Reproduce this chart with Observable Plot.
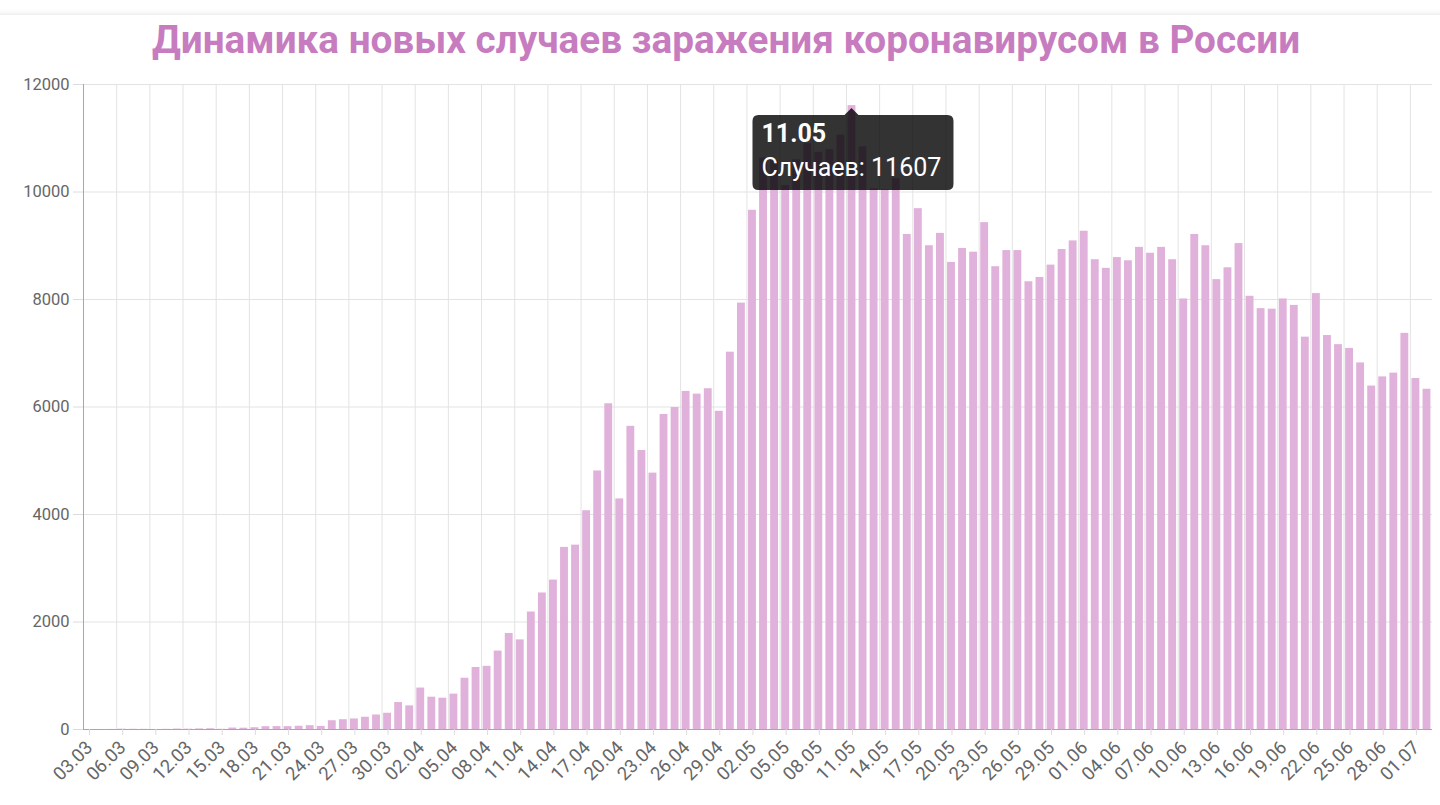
<!DOCTYPE html>
<html>
<head>
<meta charset="utf-8">
<script src="https://cdn.jsdelivr.net/npm/d3@7"></script>
<script src="https://cdn.jsdelivr.net/npm/@observablehq/plot@0.6"></script>
<style>
  html, body { margin: 0; padding: 0; background: #fff; }
  #wrap { position: relative; width: 1440px; height: 805px; overflow: hidden; font-family: Roboto, "Noto Sans", sans-serif; }
  #card { position: absolute; left: -30px; top: 15px; width: 1500px; height: 820px; background: #fff; box-shadow: 0 -1px 5px rgba(0,0,0,0.10); }
  #title { position: absolute; left: 12px; top: 15px; width: 1428px; text-align: center; font-family: Roboto, sans-serif; font-weight: 700; font-size: 38.7px; color: #c77cbf; line-height: 50px; white-space: nowrap; }
  #chart { position: absolute; left: 0; top: 70px; }
  #chart svg { font-family: Roboto, sans-serif; }
  #chart g[aria-label="x-axis tick"] path, #chart g[aria-label="y-axis tick"] path { stroke: #dcdcdc; stroke-opacity: 1; }
</style>
</head>
<body>
<div id="wrap">
  <div id="card"></div>
  <div id="title">Динамика новых случаев заражения коронавирусом в России</div>
  <div id="chart"></div>
</div>
<script>
// ---- data ----
const dayLabels = [
  "03.03","04.03","05.03","06.03","07.03","08.03","09.03","10.03","11.03","12.03",
  "13.03","14.03","15.03","16.03","17.03","18.03","19.03","20.03","21.03","22.03",
  "23.03","24.03","25.03","26.03","27.03","28.03","29.03","30.03","31.03","01.04",
  "02.04","03.04","04.04","05.04","06.04","07.04","08.04","09.04","10.04","11.04",
  "12.04","13.04","14.04","15.04","16.04","17.04","18.04","19.04","20.04","21.04",
  "22.04","23.04","24.04","25.04","26.04","27.04","28.04","29.04","30.04","01.05",
  "02.05","03.05","04.05","05.05","06.05","07.05","08.05","09.05","10.05","11.05",
  "12.05","13.05","14.05","15.05","16.05","17.05","18.05","19.05","20.05","21.05",
  "22.05","23.05","24.05","25.05","26.05","27.05","28.05","29.05","30.05","31.05",
  "01.06","02.06","03.06","04.06","05.06","06.06","07.06","08.06","09.06","10.06",
  "11.06","12.06","13.06","14.06","15.06","16.06","17.06","18.06","19.06","20.06",
  "21.06","22.06","23.06","24.06","25.06","26.06","27.06","28.06","29.06","30.06",
  "01.07","02.07"
];
const newCases = [
  0, 0, 1, 6, 4, 3, 0, 3, 8, 6,
  11, 14, 4, 27, 24, 33, 52, 54, 53, 61,
  71, 57, 163, 182, 196, 228, 270, 302, 501, 440,
  771, 601, 582, 658, 954, 1154, 1175, 1459, 1786, 1667,
  2186, 2540, 2780, 3388, 3430, 4070, 4810, 6060, 4290, 5640,
  5190, 4770, 5860, 5990, 6290, 6240, 6340, 5920, 7020, 7933,
  9660, 10633, 10581, 10120, 10600, 10900, 10740, 10790, 11060, 11607,
  10840, 10060, 10040, 10250, 9210, 9690, 9000, 9230, 8690, 8950,
  8880, 9430, 8610, 8910, 8910, 8330, 8410, 8640, 8930, 9090,
  9270, 8740, 8580, 8780, 8720, 8970, 8860, 8970, 8740, 8010,
  9210, 9000, 8370, 8590, 9040, 8060, 7830, 7820, 8010, 7890,
  7300, 8110, 7330, 7160, 7090, 6820, 6390, 6560, 6630, 7370,
  6530, 6330
];
const year = "2020";
const yTicks = [0, 2000, 4000, 6000, 8000, 10000, 12000];
const tickEvery = 3;
const tooltipDay = "11.05";
const tooltipLabel = "Случаев";

// ---- build table ----
const parse = d3.utcParse("%d.%m.%Y");
const DAY = 864e5;
const rows = dayLabels.map((d, i) => ({
  label: d,
  start: parse(d + "." + year),
  end: new Date(+parse(d + "." + year) + DAY),
  value: newCases[i]
}));
const tickDates = rows.filter((r, i) => i % tickEvery === 0).map(r => r.start);

const gridColor = "#e3e3e3";
const axisColor = "#a8a8a8";
const barColor = "#e0b1da";

const chart = Plot.plot({
  width: 1440,
  height: 735,
  marginLeft: 83,
  marginRight: 8,
  marginTop: 14,
  marginBottom: 76,
  style: { fontFamily: "Roboto, sans-serif", fontSize: "16px", color: "#666", background: "transparent" },
  x: { type: "utc", domain: [rows[0].start, rows[rows.length - 1].end] },
  y: { domain: [0, 12000] },
  marks: [
    Plot.gridY(yTicks, { stroke: gridColor, strokeOpacity: 1 }),
    Plot.gridX(tickDates, { stroke: gridColor, strokeOpacity: 1 }),
    Plot.rectY(rows, { x1: "start", x2: "end", y: "value", fill: barColor, insetLeft: 1.6, insetRight: 1.6 }),
    Plot.ruleX([rows[0].start], { stroke: axisColor }),
    Plot.ruleY([0], { stroke: axisColor }),
    Plot.axisY(yTicks, { tickSize: 10, tickPadding: 4, fontSize: 16.5, fill: "#666", label: null,
      tickFormat: d => String(d) }),
    Plot.axisX(tickDates, { tickSize: 6, tickPadding: 9, tickRotate: -45, dx: 6, fontSize: 18.5, fill: "#666",
      tickFormat: d3.utcFormat("%d.%m"), label: null })
  ]
});
document.getElementById("chart").appendChild(chart);

// ---- tooltip anchored through the chart's own scales ----
const tipRow = rows.find(r => r.label === tooltipDay);
const sx = chart.scale("x"), sy = chart.scale("y");
const ax = sx.apply(new Date(+tipRow.start + DAY / 2));
const ay = sy.apply(tipRow.value);
const svg = d3.select(chart);
const boxW = 201, boxH = 75, r = 6, caret = 7, gap = 3;
const bx = ax - 99, by = ay + gap + caret;
const path = [
  `M${bx + r},${by}`,
  `H${ax - caret}`, `L${ax},${by - caret}`, `L${ax + caret},${by}`,
  `H${bx + boxW - r}`, `Q${bx + boxW},${by} ${bx + boxW},${by + r}`,
  `V${by + boxH - r}`, `Q${bx + boxW},${by + boxH} ${bx + boxW - r},${by + boxH}`,
  `H${bx + r}`, `Q${bx},${by + boxH} ${bx},${by + boxH - r}`,
  `V${by + r}`, `Q${bx},${by} ${bx + r},${by}`, "Z"
].join("");
const tip = svg.append("g").attr("class", "tip").attr("text-anchor", "start");
tip.append("path").attr("d", path).attr("fill", "rgba(0,0,0,0.8)");
tip.append("text").attr("x", bx + 9).attr("y", by + 27).attr("text-anchor", "start")
  .attr("fill", "#fff").attr("font-size", 25).attr("font-weight", 700)
  .attr("font-family", "Roboto, sans-serif").text(tipRow.label);
tip.append("text").attr("x", bx + 9).attr("y", by + 61).attr("text-anchor", "start")
  .attr("fill", "#fff").attr("font-size", 25)
  .attr("font-family", "Roboto, sans-serif").text(tooltipLabel + ": " + tipRow.value);
</script>
</body>
</html>
